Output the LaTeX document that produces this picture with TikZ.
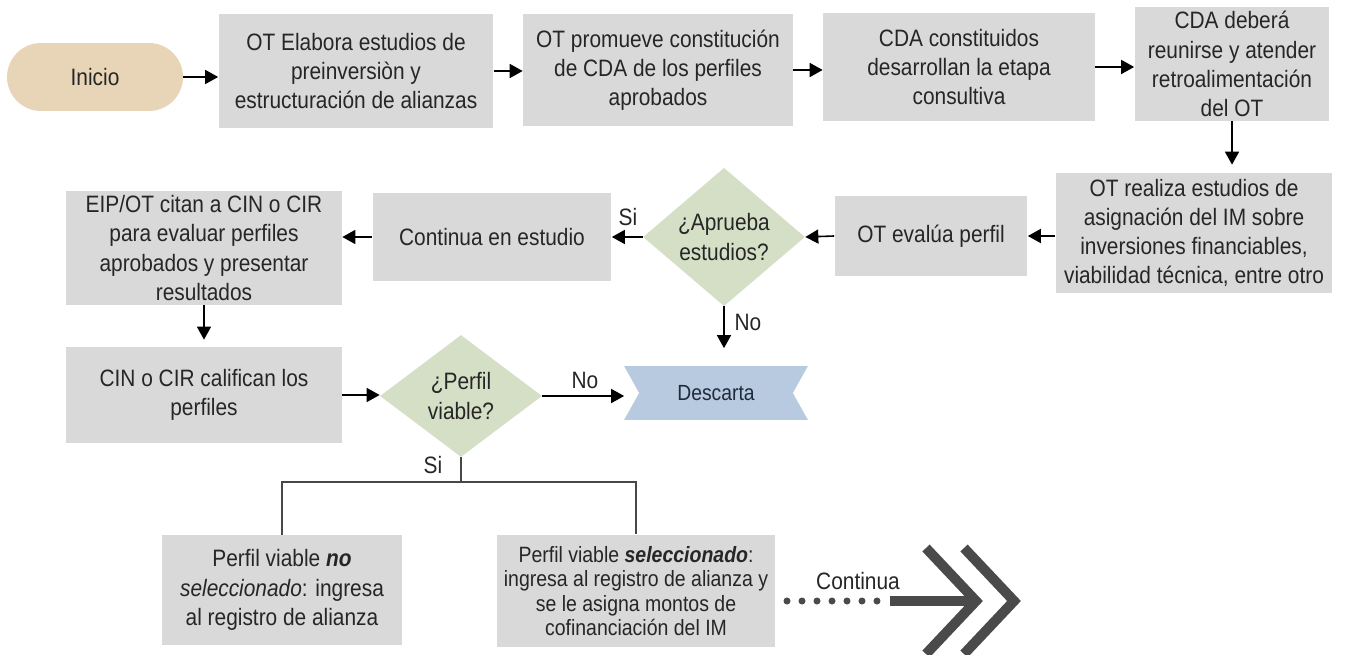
\documentclass[tikz,border=0pt]{standalone}
\usepackage{fontspec}
\setmainfont{Liberation Sans}[FakeStretch=0.88]
\usetikzlibrary{arrows.meta,backgrounds,shapes.geometric}
\definecolor{Ink}{HTML}{262626}
\definecolor{BoxGray}{HTML}{D9D9D9}
\definecolor{Sand}{HTML}{E8D5B7}
\definecolor{Sage}{HTML}{D4DFC5}
\definecolor{Steel}{HTML}{B8CADF}
\definecolor{Navy}{HTML}{1F2A3A}
\definecolor{Slate}{HTML}{4A4A4A}
\newcommand{\flowfont}{\fontsize{13.5pt}{16.6pt}\selectfont}
\newcommand{\smallflowfont}{\fontsize{12.6pt}{13.9pt}\selectfont}
\tikzset{
  stage/.style={
    fill=BoxGray, text=Ink, align=center, inner sep=2pt, font=\flowfont
  },
  terminal/.style={
    fill=Sand, text=Ink, rounded corners=0.68cm, font=\flowfont,
    minimum width=3.52cm, minimum height=1.36cm
  },
  decision/.style={
    diamond, fill=Sage, text=Ink, align=center, inner sep=0pt,
    font=\flowfont, minimum width=3.24cm
  },
  discard/.style={
    text=Navy, font=\fontsize{12.5pt}{15pt}\selectfont,
    minimum width=3.66cm, minimum height=1.06cm
  },
  tag/.style={text=Ink, font=\flowfont, inner sep=1pt},
  flow/.style={-{Triangle[length=0.26cm,width=0.28cm]}, line width=0.9pt, draw=black},
  branch/.style={line width=0.8pt, draw=Ink!85},
  dotline/.style={line width=0.14cm, line cap=round, dash pattern=on 0pt off 0.3cm, draw=Slate},
  chevron/.style={line width=0.2cm, draw=Slate}
}

\begin{document}
\begin{tikzpicture}[x=0.02cm,y=-0.02cm]
    \useasboundingbox (0,0) rectangle (1352,655);
    % top row
    \node[terminal] (inicio) at (95,77) {Inicio};
    \node[stage,minimum width=5.5cm,minimum height=2.28cm] (elabora) at (356,71)
      {OT Elabora estudios de\\preinversiòn y\\estructuración de alianzas};
    \node[stage,minimum width=5.4cm,minimum height=2.26cm] (promueve) at (658,70)
      {OT promueve constitución\\de CDA de los perfiles\\aprobados};
    \node[stage,minimum width=5.44cm,minimum height=2.18cm] (consultiva) at (959,67)
      {CDA constituidos\\desarrollan la etapa\\consultiva};
    \node[stage,minimum width=3.9cm,minimum height=2.28cm] (reunion) at (1232,64)
      {CDA deberá\\reunirse y atender\\retroalimentación\\del OT};
    % second row
    \node[stage,minimum width=5.54cm,minimum height=2.4cm] (asignacion) at (1194,233)
      {OT realiza estudios de\\asignación del IM sobre\\inversiones financiables,\\viabilidad técnica, entre otro};
    \node[stage,minimum width=3.86cm,minimum height=1.62cm] (evalua) at (931,236)
      {OT evalúa perfil};
    \node[decision,minimum height=2.26cm] (aprueba) at (724,237) {¿Aprueba\\estudios?};
    \node[stage,minimum width=4.78cm,minimum height=1.76cm] (estudio) at (492,237)
      {Continua en estudio};
    \node[stage,minimum width=5.52cm,minimum height=2.28cm] (citan) at (204,248)
      {EIP/OT citan a CIN o CIR\\para evaluar perfiles\\aprobados y presentar\\resultados};
    % third row
    \node[stage,minimum width=5.52cm,minimum height=1.92cm] (califican) at (204,395)
      {CIN o CIR califican los\\perfiles};
    \node[decision,minimum height=2.44cm] (viable) at (461,396) {¿Perfil\\viable?};
    \node[discard] (descarta) at (716,393) {Descarta};
    \begin{scope}[on background layer]
      \fill[Steel] (descarta.north west) -- (descarta.north east)
        -- ([xshift=-0.3cm]descarta.east) -- (descarta.south east)
        -- (descarta.south west) -- ([xshift=0.3cm]descarta.west) -- cycle;
    \end{scope}
    % results
    \node[stage,minimum width=4.82cm,minimum height=2.2cm] (noSel) at (282,590)
      {Perfil viable \textbf{\textit{no}}\\\textit{seleccionado}: ingresa\\al registro de alianza};
    \node[stage,font=\smallflowfont,minimum width=5.56cm,minimum height=2.26cm] (siSel) at (636,591)
      {Perfil viable \textbf{\textit{seleccionado}}:\\ingresa al registro de alianza y\\se le asigna montos de\\cofinanciación del IM};
    % connectors
    \draw[flow] (inicio.east) -- (inicio.east -| elabora.west);
    \draw[flow] (elabora.east) -- (elabora.east -| promueve.west);
    \draw[flow] (promueve.east) -- (promueve.east -| consultiva.west);
    \draw[flow] (consultiva.east) -- (consultiva.east -| reunion.west);
    \draw[flow,shorten >=0.16cm] (reunion.south) -- (reunion.south |- asignacion.north);
    \draw[flow] (evalua.east -| asignacion.west) -- (evalua.east);
    \draw[flow] (evalua.west) -- (aprueba.east);
    \draw[flow] (aprueba.west) -- (estudio.east);
    \draw[flow] (estudio.west) -- (estudio.west -| citan.east);
    \draw[flow,shorten >=0.14cm] (citan.south) -- (citan.south |- califican.north);
    \draw[flow,shorten >=0.36cm] (aprueba.south) -- (aprueba.south |- descarta.north);
    \draw[flow] (califican.east) -- (califican.east -| viable.west);
    \draw[flow] (viable.east) -- (viable.east -| descarta.west);
    \coordinate (split) at (461,482);
    \draw[branch] (viable.south) -- (split);
    \draw[branch] (noSel.north) |- (split) -| (siSel.north);
    \node[tag] (siAprueba) at (628,217) {Si};
    \node[tag] (noAprueba) at (748,322) {No};
    \node[tag] (noViable) at (585,380) {No};
    \node[tag] (siViable) at (433,465) {Si};
    % continua
    \coordinate (dotsA) at (787,601);
    \coordinate (dotsB) at (877,601);
    \coordinate (barA) at (890,601);
    \coordinate (tipA) at (976,601);
    \coordinate (tipB) at (1014,601);
    \draw[dotline] (dotsA) -- (dotsB);
    \draw[chevron] (barA) -- (tipA);
    \draw[chevron] ([shift={(-50,-53)}]tipA) -- (tipA) -- ([shift={(-50,53)}]tipA);
    \draw[chevron] ([shift={(-50,-53)}]tipB) -- (tipB) -- ([shift={(-50,53)}]tipB);
    \node[tag] (contLabel) at (858,581) {Continua};
\end{tikzpicture}
\end{document}
